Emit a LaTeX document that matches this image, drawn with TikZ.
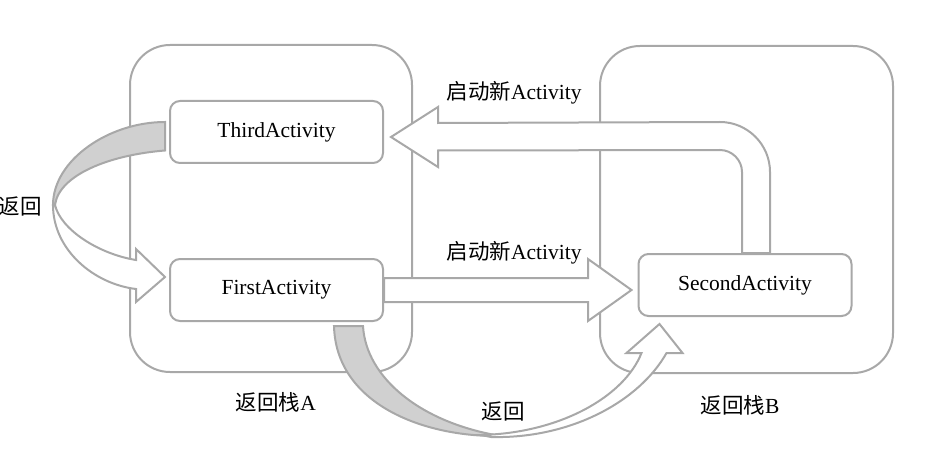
\documentclass[tikz,border=0pt]{standalone}
\usepackage{fontspec}
\setmainfont{Liberation Serif}
\newfontfamily\cjk{Noto Sans CJK SC}
\usepackage{tikz}
\usetikzlibrary{positioning,calc}
\usepackage{xcolor}
\definecolor{linegray}{RGB}{168,168,168}
\definecolor{ribbongray}{RGB}{208,208,208}

\begin{document}
\begin{tikzpicture}[x=0.5pt,y=-0.5pt,line width=1pt, every node/.style={font=\fontsize{10.75}{13}\selectfont}]
\tikzstyle{stack}=[draw=linegray,rounded corners=20pt,minimum width=141pt,minimum height=163.5pt]
\tikzstyle{act}=[draw=linegray,fill=white,rounded corners=5pt,minimum width=106.5pt,minimum height=31pt]
\tikzstyle{fat}=[draw=linegray,fill=white]
\useasboundingbox (0,0) rectangle (929,454);
\node[stack] (stackA) at (271,208.5) {};
\node[stack,minimum width=146.5pt] (stackB) at (746.5,209.5) {};
\node[act] (third) at (276.5,132) {ThirdActivity};
\node[act,below=47pt of third] (first) {FirstActivity};
\node[act] (second) at (745,285) {SecondActivity};
\node (lblA) at ($(stackA.south)+(5,29)$) {{\cjk 返回栈}A};
\node (lblB) at ($(stackB.south)+(-6.5,31)$) {{\cjk 返回栈}B};
% second -> third
\draw[fat] ($(second.north)+(-3,0)$) -- ($(second.north)+(-3,-81)$)
  .. controls +(0,-12) and +(12,0) .. ($(second.north)+(-25,-103)$)
  -- ($(third.east)+(54,18.5)$) -- ++(0,16.5) -- ($(third.east)+(7,5)$)
  -- ($(third.east)+(54,-25)$) -- ++(0,16) -- ($(second.north)+(-25,-131)$)
  .. controls +(27.5,0) and +(0,-27.5) .. ($(second.north)+(25,-81)$)
  -- ($(second.north)+(25,0)$) -- cycle;
\node (up) at (514,93) {{\cjk 启动新}Activity};
% first -> second
\draw[fat] ($(first.east)+(0,-12)$) -- ($(first.east)+(204,-12)$) -- ++(0,-19)
  -- ($(first.east -| second.west)+(-6,0)$) -- ($(first.east)+(204,31)$) -- ++(0,-19)
  -- ($(first.east)+(0,12)$) -- cycle;
\node (down) at (514,253) {{\cjk 启动新}Activity};
% third -> first (back)
\draw[fat,fill=ribbongray] ($(third.west)+(-4,-10)$)
  .. controls +(-56,0) and +(0,-45) .. ($(third.west)+(-116,73)$) -- ++(2,0)
  .. controls +(4,-30) and +(-56,4.5) .. ($(third.west)+(-4,18.5)$) -- cycle;
\draw[fat] ($(third.west)+(-116,73)$)
  .. controls +(0,45) and +(-42,-5) .. ($(first.west)+(-33,-1)$) -- ++(0,13)
  -- ($(first.west)+(-4,-13)$) -- ($(first.west)+(-33,-41)$) -- ++(0,11)
  .. controls +(-37,-6) and +(6,25) .. ($(third.west)+(-114,73)$) -- cycle;
\node (backL) at (20,206) {\cjk 返回};
% first -> second (back)
\draw[fat,fill=ribbongray] ($(first.south east)+(-50,4)$)
  .. controls +(2,77) and +(-75,0) .. ($(first.south east)+(112,114)$) -- ++(5,0)
  .. controls +(-80,-13) and +(3,52) .. ($(first.south east)+(-21,4)$) -- cycle;
\draw[fat] ($(first.south east)+(107,115)$)
  .. controls +(80,2) and +(-27,48) .. ($(second.south west)+(29,36)$) -- ++(16,0)
  -- ($(second.south west)+(22,7)$) -- ($(second.south west)+(-11,36)$) -- ++(15,0)
  .. controls +(-17,43) and +(80,-2) .. ($(first.south east)+(97,113)$) -- cycle;
\node (backB) at (503,411) {\cjk 返回};
\end{tikzpicture}
\end{document}
